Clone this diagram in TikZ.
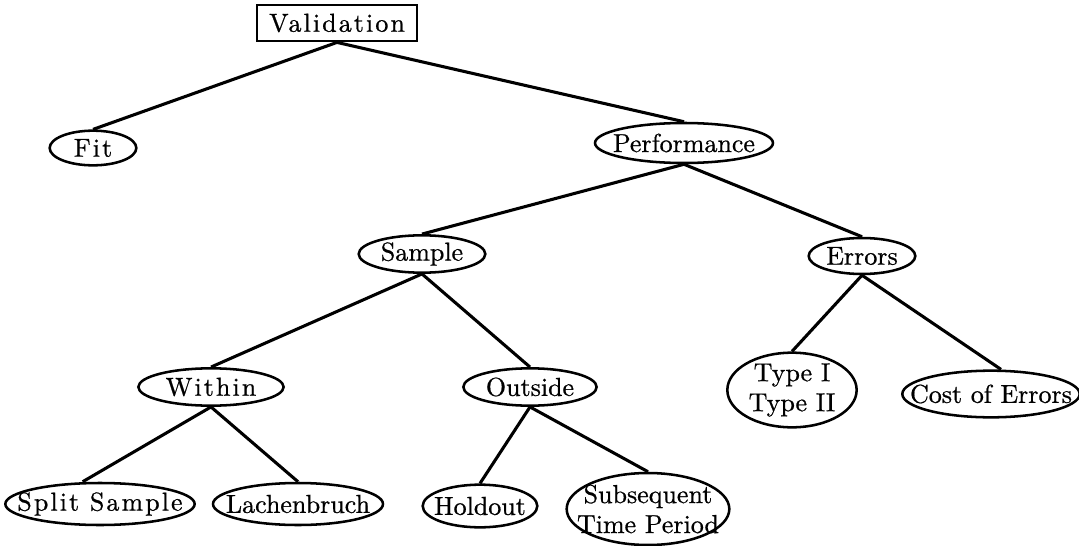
\documentclass[tikz,border=0pt]{standalone}
\usepackage{fontspec}
\setmainfont{lmroman10-regular.otf}[FakeBold=0.7]
\usetikzlibrary{shapes.geometric}
\begin{document}
\begin{tikzpicture}[x=0.75pt,y=-0.75pt,
  every node/.style={font=\fontsize{19.5}{22.5}\selectfont, align=center, inner sep=0pt},
  every label/.style={font=\fontsize{19.5}{22.5}\selectfont, align=center, inner sep=0pt},
  oval/.style={ellipse, draw, line width=1.9pt},
  spfont/.style={font=\fontsize{19.5}{22.5}\selectfont\addfontfeatures{LetterSpace=8}},
  link/.style={line width=2.3pt}]
\useasboundingbox (0,0) rectangle (1079,546);
\node[draw, line width=1.6pt, rectangle, minimum width=120pt, minimum height=27.5pt, spfont] (val) at (337,23) {Validation};
\node[oval, minimum width=65pt, minimum height=26pt, label={[spfont]center:Fit}] (fit) at (93,148) {};
\node[oval, minimum width=133.5pt, minimum height=30pt, label=center:Performance] (perf) at (684,143) {};
\node[oval, minimum width=95pt, minimum height=28pt, label=center:Sample] (sample) at (422,254) {};
\node[oval, minimum width=80pt, minimum height=27pt, label=center:Errors] (err) at (862,256) {};
\node[oval, minimum width=109pt, minimum height=28pt, label={[spfont]center:Within}] (within) at (211,387) {};
\node[oval, minimum width=100pt, minimum height=28pt, label=center:Outside] (outside) at (530,387) {};
\node[oval, minimum width=97pt, minimum height=56pt, label={center:Type I\\Type II}] (types) at (792,390) {};
\node[oval, minimum width=133pt, minimum height=35pt, label=center:Cost of Errors] (cost) at (991,394) {};
\node[oval, minimum width=142pt, minimum height=31.5pt, label={[spfont]center:Split Sample}] (split) at (100,504) {};
\node[oval, minimum width=127.5pt, minimum height=31.5pt, label=center:Lachenbruch] (lach) at (298,504) {};
\node[oval, minimum width=86pt, minimum height=32pt, label=center:Holdout] (hold) at (480,506) {};
\node[oval, minimum width=122pt, minimum height=54pt, label={center:Subsequent\\Time Period}] (subs) at (648,509) {};
\draw[link] (val.south) -- (fit.north);
\draw[link] (val.south) -- (perf.north);
\draw[link] (perf.south) -- (sample.north);
\draw[link] (perf.south) -- (err.north);
\draw[link] (sample.south) -- (within.north);
\draw[link] (sample.south) -- (outside.north);
\draw[link] (err.south) -- (types.north);
\draw[link] (err.south) -- ([xshift=7.5pt]cost.north);
\draw[link] (within.south) -- ([xshift=-13pt]split.north);
\draw[link] (within.south) -- (lach.north);
\draw[link] (outside.south) -- (hold.north);
\draw[link] (outside.south) -- (subs.north);
\end{tikzpicture}
\end{document}
